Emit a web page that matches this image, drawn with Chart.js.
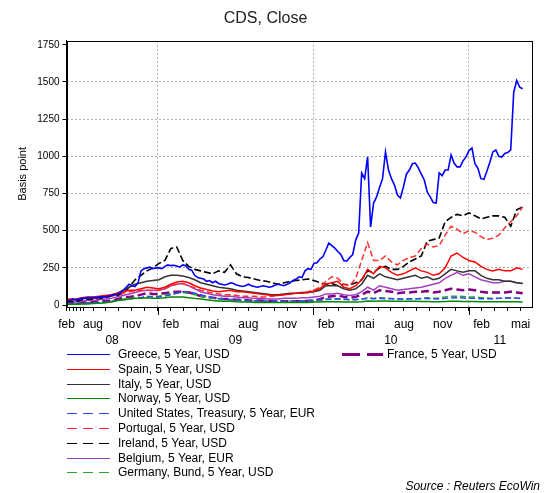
<!DOCTYPE html>
<html>
<head>
<meta charset="utf-8">
<title>CDS, Close</title>
<script src="https://cdn.jsdelivr.net/npm/chart.js@4.4.0/dist/chart.umd.min.js"></script>
<style>
	html, body { margin: 0; padding: 0; background: #fff; }
	#wrap { width: 544px; height: 493px; }
</style>
</head>
<body>
<div id="wrap"><canvas id="cds" width="544" height="493"></canvas></div>
<script>
'use strict'

//x axis = observation number (monthly feb-jun 08, then weekly)
const xMax = 155.8;
//month ticks: where each month starts on that axis
const monthPos = [0, 1.1, 2.3, 3.5, 4.6, 5.7, 8.9, 13.2, 17.6, 21.9, 26.3,
	30.6, 35.0, 39.3, 43.6, 48.0, 52.3, 56.7, 61.0, 65.4, 69.7, 74.1, 78.4,
	82.7, 87.1, 91.4, 95.8, 100.1, 104.5, 108.8, 113.2, 117.5, 121.8, 126.2, 130.5,
	134.9, 139.2, 143.6, 147.9, 152.3];
const monthText = ['feb', '', '', '', '', '', 'aug', '', '', 'nov', '',
	'', 'feb', '', '', 'mai', '', '', 'aug', '', '', 'nov', '',
	'', 'feb', '', '', 'mai', '', '', 'aug', '', '', 'nov', '',
	'', 'feb', '', '', 'mai'];
//start of 09, 10, 11
const yearStart = [30.6, 82.7, 134.9];
const yearText = ['08', '09', '10', '11'];
const yTicks = [0, 250, 500, 750, 1000, 1250, 1500, 1750];

//greece is read weekly, the others every second week
const greece = [
	25, 30, 40, 35, 40, 45, 45, 50, 50, 50, 50, 55, 55, 55, 60, 65, 70, 75, 80, 100, 120, 140, 130, 125, 150, 230, 245, 250, 255, 245, 250,
	250, 245, 260, 270, 265, 268, 262, 255, 270, 265, 240, 235, 200, 185, 180, 175, 160, 165, 150, 160, 145, 140, 135, 140, 150, 145,
	135, 130, 125, 130, 140, 130, 125, 120, 125, 130, 125, 120, 125, 135, 140, 135, 130, 140, 150, 165, 175, 190, 185, 230, 245, 240,
	280, 285, 310, 325, 370, 417, 400, 383, 360, 340, 300, 295, 320, 340, 437, 484, 888, 850, 996, 525, 686, 727, 790, 850, 1030, 908,
	850, 807, 740, 720, 794, 880, 908, 950, 955, 922, 880, 841, 760, 727, 690, 686, 888, 870, 908, 908, 1010, 955, 929, 929, 970, 996, 1040,
	1056, 950, 920, 850, 845, 900, 960, 1030, 1043, 1000, 995, 1020, 1025, 1043, 1430, 1510, 1465, 1455
];
const spain = [
	35, 40, 40, 40, 45, 50, 55, 55, 60, 65, 70, 80, 90, 100, 100, 110, 120, 115,
	110, 120, 140, 155, 160, 150, 130, 115, 105, 95, 90, 95, 100, 90, 90, 85, 80, 75, 70, 65, 65, 70, 75, 80, 80, 85,
	95, 110, 140, 150, 160, 120, 110, 130, 170, 240, 210, 260, 250, 220, 200, 210, 230, 250, 230, 220, 200, 210, 250, 330, 350, 320, 300,
	290, 260, 240, 230, 240, 230, 230, 250, 240
];
const italy = [
	30, 35, 35, 35, 40, 45, 45, 50, 55, 60, 65, 80, 100, 120, 140, 150, 160, 165,
	170, 190, 200, 200, 195, 185, 170, 150, 140, 130, 120, 115, 110, 100, 95, 90, 85, 80, 75, 70, 70, 75, 80, 80, 85, 85,
	90, 100, 130, 130, 130, 110, 100, 110, 140, 200, 180, 210, 190, 180, 170, 180, 190, 200, 180, 190, 170, 180, 210, 240, 230, 220, 230,
	230, 200, 180, 170, 170, 160, 160, 150, 145
];
const norway = [
	5, 5, 5, 5, 5, 7, 8, 10, 12, 15, 20, 30, 35, 40, 45, 45, 50, 45,
	45, 50, 55, 55, 55, 50, 45, 40, 35, 30, 28, 25, 25, 22, 20, 20, 18, 18, 18, 17, 17, 17, 18, 18, 18, 18,
	20, 20, 22, 22, 22, 20, 20, 20, 22, 28, 26, 28, 27, 26, 25, 25, 25, 25, 24, 24, 23, 23, 24, 25, 25, 24, 24,
	24, 23, 22, 22, 22, 22, 22, 22, 21
];
const usa = [
	8, 8, 10, 10, 10, 12, 14, 16, 18, 20, 25, 30, 35, 40, 45, 50, 60, 55,
	55, 60, 70, 80, 90, 90, 80, 70, 60, 50, 45, 40, 38, 35, 32, 30, 28, 27, 26, 25, 25, 25, 26, 27, 28, 30,
	32, 35, 38, 40, 42, 40, 38, 38, 40, 45, 42, 45, 43, 42, 40, 40, 42, 42, 43, 44, 42, 40, 45, 48, 50, 48, 45,
	45, 43, 42, 42, 45, 47, 48, 48, 45
];
const portugal = [
	30, 35, 35, 35, 40, 40, 45, 45, 50, 55, 60, 70, 80, 90, 95, 100, 100, 95,
	100, 110, 130, 140, 145, 130, 115, 100, 90, 80, 75, 70, 70, 65, 60, 60, 60, 55, 55, 60, 65, 70, 75, 80, 85, 90,
	100, 120, 160, 190, 180, 140, 130, 180, 300, 420, 300, 300, 330, 290, 270, 300, 320, 330, 380, 410, 390, 400, 470, 530, 510, 480, 500,
	490, 460, 440, 450, 470, 520, 560, 600, 660
];
const ireland = [
	20, 25, 25, 25, 30, 35, 40, 40, 45, 50, 60, 65, 80, 120, 170, 200, 230, 250,
	280, 300, 380, 390, 300, 260, 240, 230, 220, 210, 230, 220, 270, 210, 190, 185, 175, 165, 160, 150, 140, 150, 160, 165, 170, 175,
	165, 150, 140, 145, 130, 140, 135, 150, 170, 230, 220, 250, 260, 240, 240, 260, 290, 310, 330, 430, 440, 450, 560, 590, 610, 600, 620,
	600, 580, 590, 600, 600, 590, 530, 640, 660
];
const belgium = [
	15, 20, 20, 20, 20, 25, 30, 30, 35, 40, 45, 55, 65, 75, 85, 95, 100, 100,
	100, 110, 130, 140, 145, 130, 110, 90, 80, 70, 65, 60, 60, 55, 50, 50, 45, 45, 40, 40, 40, 45, 45, 45, 50, 50,
	55, 60, 75, 75, 80, 70, 65, 70, 90, 120, 100, 130, 120, 110, 100, 105, 110, 115, 120, 130, 140, 150, 180, 200, 220, 200, 210,
	190, 170, 160, 150, 150, 160, 160, 150, 145
];
const germany = [
	8, 8, 8, 8, 8, 10, 12, 14, 16, 18, 22, 30, 40, 45, 48, 50, 55, 60,
	60, 70, 75, 80, 85, 80, 70, 60, 55, 45, 40, 35, 35, 30, 28, 28, 25, 25, 25, 24, 24, 24, 25, 25, 26, 26,
	28, 30, 40, 40, 42, 38, 35, 35, 40, 50, 45, 50, 48, 45, 40, 40, 40, 42, 45, 50, 45, 48, 55, 60, 60, 58, 55,
	55, 50, 48, 45, 45, 48, 48, 45, 42
];
const france = [
	10, 15, 15, 15, 15, 18, 20, 22, 25, 28, 30, 40, 50, 55, 60, 70, 80, 75,
	75, 80, 85, 90, 90, 85, 75, 60, 55, 50, 45, 40, 40, 35, 35, 32, 30, 30, 28, 28, 25, 25, 25, 25, 27, 28,
	30, 40, 55, 60, 65, 55, 50, 55, 70, 90, 80, 100, 95, 90, 80, 85, 85, 90, 90, 95, 85, 90, 100, 110, 105, 100, 105,
	100, 90, 85, 85, 85, 85, 90, 85, 80
];

const FONT = '"Liberation Sans", Arial, sans-serif';

// =====================================================================================================

//observation numbers
const obsWeekly = [];
for(let i = 0; i <= 153; i++) obsWeekly.push(i);
const obsBiweekly = [0, 1, 2, 3, 4];
for(let i = 5; i <= 153; i += 2) obsBiweekly.push(i);

//year label sits in the middle of its year
const yearBounds = [0].concat(yearStart, [xMax]);
const yearPos = yearText.map((t, i) => (yearBounds[i] + yearBounds[i + 1]) / 2);

function toPoints(obs, values){
	return values.map((v, i) => ({x: obs[i], y: v}));
}

function makeSet(label, obs, values, color, dash, width, legendDash, legendWidth){
	return {
		label: label,
		data: toPoints(obs, values),
		borderColor: color,
		borderWidth: width,
		borderDash: dash,
		pointRadius: 0,
		tension: 0,
		fill: false,
		legendColor: color,
		legendDash: legendDash,
		legendWidth: legendWidth
	};
}

const datasets = [
	makeSet('Greece, 5 Year, USD', obsWeekly, greece, '#0000ff', [], 1.6, [], 1),
	makeSet('Spain, 5 Year, USD', obsBiweekly, spain, '#ff0000', [], 1.5, [], 1),
	makeSet('Italy, 5 Year, USD', obsBiweekly, italy, '#333333', [], 1.5, [], 1),
	makeSet('Norway, 5 Year, USD', obsBiweekly, norway, '#008800', [], 1.5, [], 1),
	makeSet('United States, Treasury, 5 Year, EUR', obsBiweekly, usa, '#3344ff', [6, 3], 1.5, [10, 6], 1),
	makeSet('Portugal, 5 Year, USD', obsBiweekly, portugal, '#ff3030', [6, 3], 1.5, [10, 6], 1),
	makeSet('Ireland, 5 Year, USD', obsBiweekly, ireland, '#000000', [7, 3], 1.6, [10, 6], 1),
	makeSet('Belgium, 5 Year, EUR', obsBiweekly, belgium, '#a040c0', [], 1.5, [], 1),
	makeSet('Germany, Bund, 5 Year, USD', obsBiweekly, germany, '#22aa22', [6, 3], 1.5, [10, 6], 1),
	makeSet('France, 5 Year, USD', obsBiweekly, france, '#800080', [8, 4], 2.5, [18, 7], 3)
];

//frame, long year ticks, legend, source
const extrasPlugin = {
	id: 'extras',
	afterDraw(chart){
		const ctx = chart.ctx;
		const a = chart.chartArea;
		const xs = chart.scales.x;
		ctx.save();
		ctx.strokeStyle = '#000';
		ctx.lineWidth = 1;
		ctx.setLineDash([]);
		ctx.strokeRect(Math.round(a.left) + 0.5, Math.round(a.top) + 0.5,
			Math.round(a.right - a.left), Math.round(a.bottom - a.top));
		yearStart.forEach((v) => {
			const x = Math.round(xs.getPixelForValue(v)) + 0.5;
			ctx.beginPath();
			ctx.moveTo(x, a.bottom);
			ctx.lineTo(x, a.bottom + 8);
			ctx.stroke();
		});

		ctx.font = '12px ' + FONT;
		ctx.textBaseline = 'middle';
		ctx.textAlign = 'left';
		chart.data.datasets.forEach((ds, i) => {
			const left = i < 9;
			const row = left ? i : i - 9;
			const x0 = left ? 67 : 342;
			const len = left ? 43 : 41;
			const tx = left ? 118 : 387;
			const y = Math.round(354 + row * 14.8);
			//line sample: solid ones as a filled strip, dashed ones piece by piece
			ctx.fillStyle = ds.legendColor;
			const w = ds.legendWidth;
			if(ds.legendDash.length == 0){
				ctx.fillRect(x0, y - Math.floor(w / 2), len, w);
			}
			else{
				const on = ds.legendDash[0];
				const off = ds.legendDash[1];
				for(let p = 0; p < len; p += on + off){
					ctx.fillRect(x0 + p, y - Math.floor(w / 2), Math.min(on, len - p), w);
				}
			}
			ctx.fillStyle = '#000';
			ctx.fillText(ds.label, tx, y + 0.5);
		});

		ctx.font = 'italic 12px ' + FONT;
		ctx.textAlign = 'right';
		ctx.fillText('Source : Reuters EcoWin', 540, 487);
		ctx.restore();
	}
};

new Chart(document.getElementById('cds'), {
	type: 'line',
	data: { datasets: datasets },
	plugins: [extrasPlugin],
	options: {
		responsive: false,
		animation: false,
		events: [],
		layout: { padding: { top: 4, left: 0, right: 13, bottom: 140 } },
		plugins: {
			legend: { display: false },
			tooltip: { enabled: false },
			title: {
				display: true,
				text: 'CDS, Close',
				color: '#222',
				font: { family: FONT, size: 16, weight: 'normal' },
				padding: { top: 5, bottom: 12.6 }
			}
		},
		scales: {
			x: {
				type: 'linear',
				position: 'bottom',
				min: 0,
				max: xMax,
				weight: 0,
				afterBuildTicks: (s) => { s.ticks = monthPos.map((v) => ({value: v})); },
				afterFit: (s) => { s.height = 26; },
				ticks: {
					autoSkip: false, maxRotation: 0, minRotation: 0, padding: 6,
					color: '#000', font: { family: FONT, size: 12 },
					callback: (v, i) => monthText[i]
				},
				grid: {
					color: (c) => (c.tick && yearStart.includes(c.tick.value)) ? '#b0b0b0' : 'rgba(0,0,0,0)',
					tickColor: '#000',
					tickLength: 4
				},
				border: { color: '#000', dash: [2, 2] }
			},
			x2: {
				type: 'linear',
				position: 'bottom',
				min: 0,
				max: xMax,
				weight: 1,
				afterBuildTicks: (s) => { s.ticks = yearPos.map((v) => ({value: v})); },
				afterFit: (s) => { s.height = 20; },
				ticks: {
					autoSkip: false, maxRotation: 0, minRotation: 0, padding: 0,
					color: '#000', font: { family: FONT, size: 12 },
					callback: (v, i) => yearText[i]
				},
				grid: { display: false, drawTicks: false },
				border: { display: false }
			},
			y: {
				type: 'linear',
				min: -13,
				max: 1777,
				afterBuildTicks: (s) => { s.ticks = yTicks.map((v) => ({value: v})); },
				afterFit: (s) => { s.width = 66.5; },
				ticks: {
					padding: 3, color: '#000', font: { family: FONT, size: 10 },
					callback: (v) => String(v)
				},
				grid: {
					color: (c) => (c.tick && c.tick.value > 0 && c.tick.value < 1750) ? '#b0b0b0' : 'rgba(0,0,0,0)',
					tickColor: '#000',
					tickLength: 4
				},
				border: { color: '#000', dash: [2, 2] },
				title: {
					display: true,
					text: 'Basis point',
					color: '#000',
					font: { family: FONT, size: 11 },
					padding: { top: 16, bottom: 0 }
				}
			}
		}
	}
});
</script>
</body>
</html>
